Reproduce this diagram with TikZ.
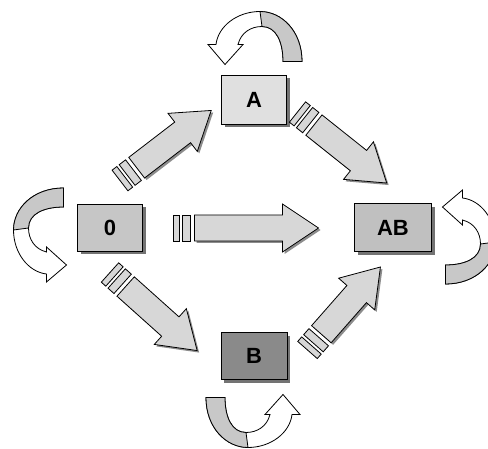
\documentclass[tikz,border=0pt]{standalone}
\usepackage{fontspec}
\setsansfont{Liberation Sans}
\usetikzlibrary{calc,shadows}
\definecolor{boxa}{RGB}{224,224,224}
\definecolor{boxo}{RGB}{198,198,198}
\definecolor{boxab}{RGB}{192,192,192}
\definecolor{boxb}{RGB}{138,138,138}
\definecolor{arrgray}{RGB}{215,215,215}
\definecolor{loopgray}{RGB}{200,200,200}
\tikzset{
  state/.style={draw=black, line width=1pt, inner sep=0pt,
    font=\fontsize{22}{26}\selectfont\sffamily\bfseries,
    drop shadow={shadow xshift=3pt, shadow yshift=-3pt, fill=black, opacity=0.55}},
  arrline/.style={draw=black, line width=0.8pt, fill=arrgray},
  % block arrow with a striped tail, #1 = length from tail to tip
  blockarr/.pic={
    \draw[arrline, drop shadow={shadow xshift=2pt, shadow yshift=-2pt, fill=black, opacity=0.45}]
      (21,-13) -- ({#1-36},-13) -- ({#1-36},-24) -- (#1,0) -- ({#1-36},24) -- ({#1-36},13) -- (21,13) -- cycle;
    \draw[arrline] (0,-13) rectangle (6,13);
    \draw[arrline] (9,-13) rectangle (17,13);
  },
  % curved turn-around arrow, tail on the right, head on the left
  turn/.pic={
    \draw[line width=0.8pt, fill=white] (21,0) -- (40,0) .. controls (40,30) and (20,50) .. (-2,50)
      .. controls (-25,50) and (-44,35) .. (-46,17) -- (-54,17) -- (-37,-3) -- (-19,17) -- (-24,17)
      .. controls (-21,29) and (-11,35) .. (0,35) .. controls (14,35) and (21,20) .. (21,0) -- cycle;
    \draw[line width=0.8pt, fill=loopgray] (21,0) -- (40,0) .. controls (40,30) and (20,50) .. (-2,50)
      -- (0,35) .. controls (14,35) and (21,20) .. (21,0) -- cycle;
  },
}
\begin{document}
\begin{tikzpicture}[x=1pt,y=1pt]
  \useasboundingbox (0,0) rectangle (488,448);
  \node[state, fill=boxa, minimum width=65pt, minimum height=49pt] (A) at (254,348) {A};
  \node[state, fill=boxo, minimum width=65pt, minimum height=47pt] (O) at (110,220) {0};
  \node[state, fill=boxab, minimum width=77pt, minimum height=48pt] (AB) at (393,220) {AB};
  \node[state, fill=boxb, minimum width=66pt, minimum height=47pt] (B) at (254,92) {B};
  % transitions
  \path ($(O.north)+(10,23.5)$) -- pic[pos=0, sloped] {blockarr=115} ($(A.west)+(-10.5,-11)$);
  \path ($(A.east)+(10.5,-12)$) -- pic[pos=0, sloped] {blockarr=114} ($(AB.north)+(-7,21)$);
  \path ($(O.east)+(30.5,0)$) -- pic[pos=0, sloped] {blockarr=145} ($(AB.west)+(-36.5,0)$);
  \path ($(O.south)+(0,-20.5)$) -- pic[pos=0, sloped] {blockarr=117} ($(B.west)+(-24,6)$);
  \path ($(B.east)+(20,6)$) -- pic[pos=0, sloped] {blockarr=110.5} ($(AB.south)+(-13,-15)$);
  % self loops
  \pic at ($(A.north)+(8,13.5)$) {turn};
  \pic[rotate=90] at ($(O.west)+(-13.5,0)$) {turn};
  \pic[rotate=-90] at ($(AB.east)+(13.5,-16)$) {turn};
  \pic[rotate=180] at ($(B.south)+(-8,-17.5)$) {turn};
\end{tikzpicture}
\end{document}
